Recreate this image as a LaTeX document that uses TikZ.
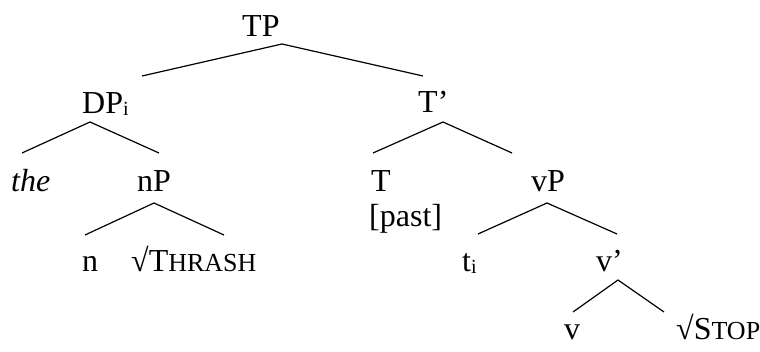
\documentclass[tikz,border=0pt]{standalone}
\usepackage{fontspec}
\setmainfont{Liberation Serif}
\tikzset{
lbl/.style={inner sep=0pt, anchor=base west, font=\fontsize{32}{38}\selectfont},
br/.style={line width=1.2pt}
}
\newcommand{\scx}[1]{{\fontsize{26}{30}\selectfont #1}}
\newcommand{\idx}[1]{\raisebox{-0.06em}{\fontsize{20}{24}\selectfont #1}}

\begin{document}
\begin{tikzpicture}[x=1pt, y=-1pt]
        \useasboundingbox (0,0) rectangle (760,352);

                    % labels
                    \node[lbl] (TP) at (242,37) {TP};
                    \node[lbl] (DP) at (82,114) {DP\idx{i}};
                    \node[lbl] (Tbar) at (418,113) {T’};
                    \node[lbl] (the) at (11,192) {\textit{the}};
                    \node[lbl] (nP) at (137,192) {nP};
                    \node[lbl] (T) at (371,192) {T};
                    \node[lbl] (past) at (369,227) {[past]};
                    \node[lbl] (vP) at (531,192) {vP};
                    \node[lbl] (n) at (82,272) {n};
                    \node[lbl] (thrash) at (131,272) {√T\scx{HRASH}};
                    \node[lbl] (ti) at (462,272) {t\idx{i}};
                    \node[lbl] (vbar) at (596,272) {v’};
                    \node[lbl] (v) at (564,340) {v};
                    \node[lbl] (stop) at (676,340) {√S\scx{TOP}};

                    % branch points
                    \coordinate (TPa) at (282,44);
                    \coordinate (TPl) at (142,76);
                    \coordinate (TPr) at (423,76);
                    \coordinate (DPa) at (90,122);
                    \coordinate (DPl) at (22,153);
                    \coordinate (DPr) at (159,153);
                    \coordinate (Ta) at (443,122);
                    \coordinate (Tl) at (373,153);
                    \coordinate (Tr) at (512,153);
                    \coordinate (nPa) at (154,203);
                    \coordinate (nPl) at (85,235);
                    \coordinate (nPr) at (224,235);
                    \coordinate (vPa) at (547,203);
                    \coordinate (vPl) at (478,234);
                    \coordinate (vPr) at (617,234);
                    \coordinate (va) at (618,280);
                    \coordinate (vl) at (573,312);
                    \coordinate (vr) at (664,312);

                    \draw[br] (TPl) -- (TPa) -- (TPr);
                    \draw[br] (DPl) -- (DPa) -- (DPr);
                    \draw[br] (Tl) -- (Ta) -- (Tr);
                    \draw[br] (nPl) -- (nPa) -- (nPr);
                    \draw[br] (vPl) -- (vPa) -- (vPr);
                    \draw[br] (vl) -- (va) -- (vr);

                \end{tikzpicture}
\end{document}
